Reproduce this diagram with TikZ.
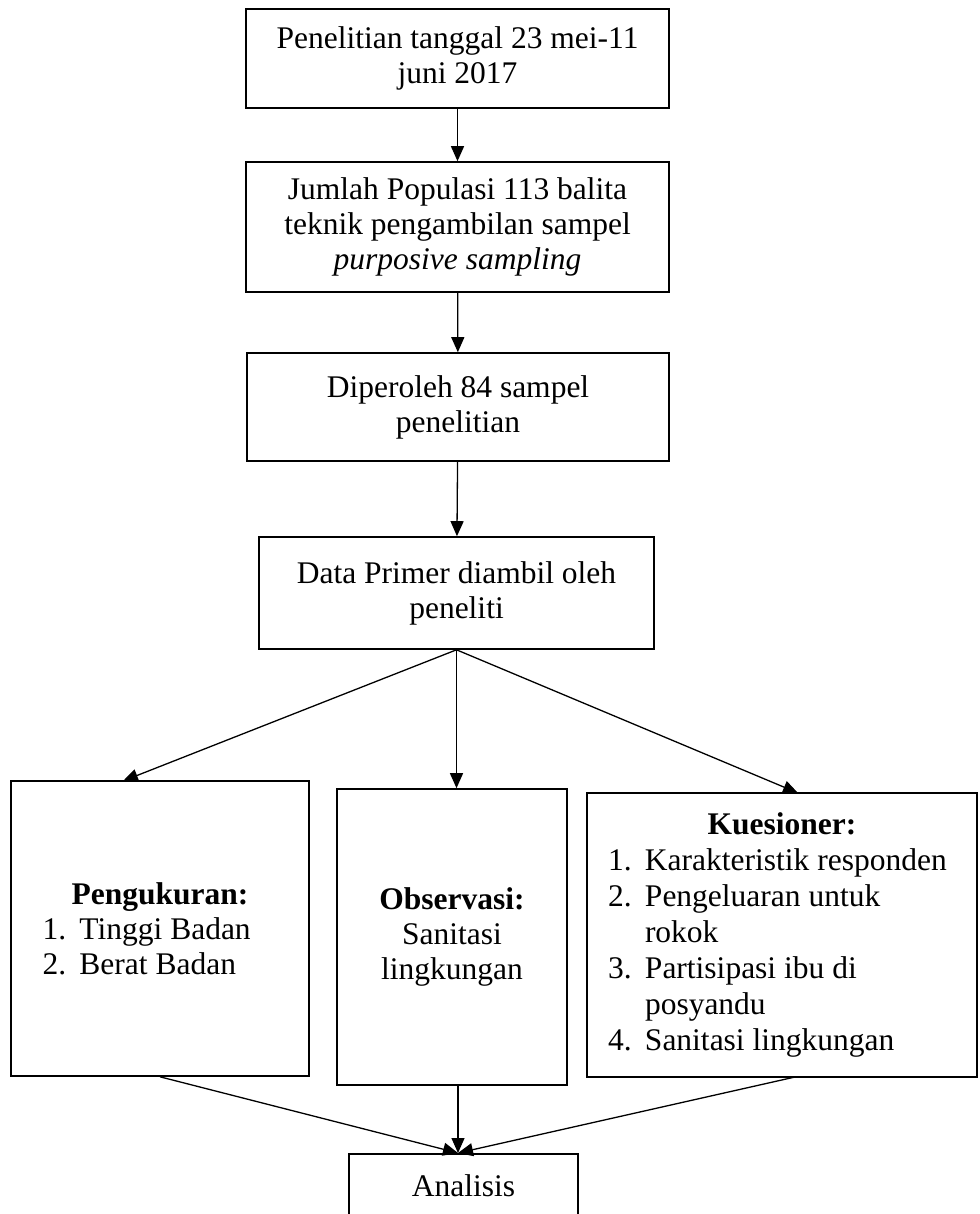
\documentclass[tikz,border=0pt]{standalone}
\usepackage{fontspec}
\setmainfont{Liberation Serif}
\usetikzlibrary{arrows.meta}

\newcommand{\butir}[2]{\makebox[37pt][l]{#1}#2}

\begin{document}
\begin{tikzpicture}[x=1pt,y=-1pt,
	kotak/.style={draw, line width=1.6pt, align=center, inner sep=0pt, font=\fontsize{31.5}{35}\selectfont},
	panah/.style={-{Triangle[length=15pt,width=13pt]}, line width=1.3pt}]
	\useasboundingbox (0,0) rectangle (979,1214);
	
	% alur utama
	\node[kotak, minimum width=423pt, minimum height=99pt] (b1) at (457.5,58.5) {Penelitian tanggal 23 mei-11\\juni 2017};
	\node[kotak, minimum width=423pt, minimum height=130pt] (b2) at (457.5,227) {Jumlah Populasi 113 balita\\teknik pengambilan sampel\\\textit{purposive sampling}};
	\node[kotak, minimum width=422pt, minimum height=108pt] (b3) at (458,407) {Diperoleh 84 sampel\\penelitian};
	\node[kotak, minimum width=395pt, minimum height=112pt] (b4) at (456.5,593) {Data Primer diambil oleh\\peneliti};
	
	% tiga cabang
	\node[kotak, minimum width=298pt, minimum height=295pt] (b5) at (160,928.5) {\textbf{Pengukuran:}\\\hspace*{-20pt}\parbox[t]{215pt}{\raggedright\butir{1.}{Tinggi Badan}\\\butir{2.}{Berat Badan}}};
	\node[kotak, minimum width=230pt, minimum height=296pt] (b6) at (452,937) {\textbf{Observasi:}\\Sanitasi\\lingkungan};
	\node[kotak] (b7) at (782,935) {\parbox[c][284pt][t]{390pt}{\baselineskip 36pt\vspace*{20pt}\centering\textbf{Kuesioner:}\par
		\raggedright\leftskip 21pt
		\butir{1.}{Karakteristik responden}\\
		\butir{2.}{Pengeluaran untuk}\\
		\butir{}{rokok}\\
		\butir{3.}{Partisipasi ibu di}\\
		\butir{}{posyandu}\\
		\butir{4.}{Sanitasi lingkungan}\par}};
	
	\node[kotak, minimum width=229pt, minimum height=64pt, anchor=north] (b8) at (463.5,1153) {Analisis};
	
	\coordinate (m5) at (123,781);
	\coordinate (m7) at (798,793);
	\coordinate (k7) at (795,1077);
	\coordinate (gabung) at (458,1153);
	
	\draw[panah] (b1) -- (b2);
	\draw[panah] (b2) -- (b3);
	\draw[panah] (b3) -- (b4);
	\draw[panah] (b4.south) -- (m5);
	\draw[panah] (b4.south) -- (b4.south |- b6.north);
	\draw[panah] (b4.south) -- (m7);
	\draw[panah] (b5.south) -- (gabung);
	\draw[panah] (b6.south -| gabung) -- (gabung);
	\draw[panah] (k7) -- (gabung);
\end{tikzpicture}
\end{document}
